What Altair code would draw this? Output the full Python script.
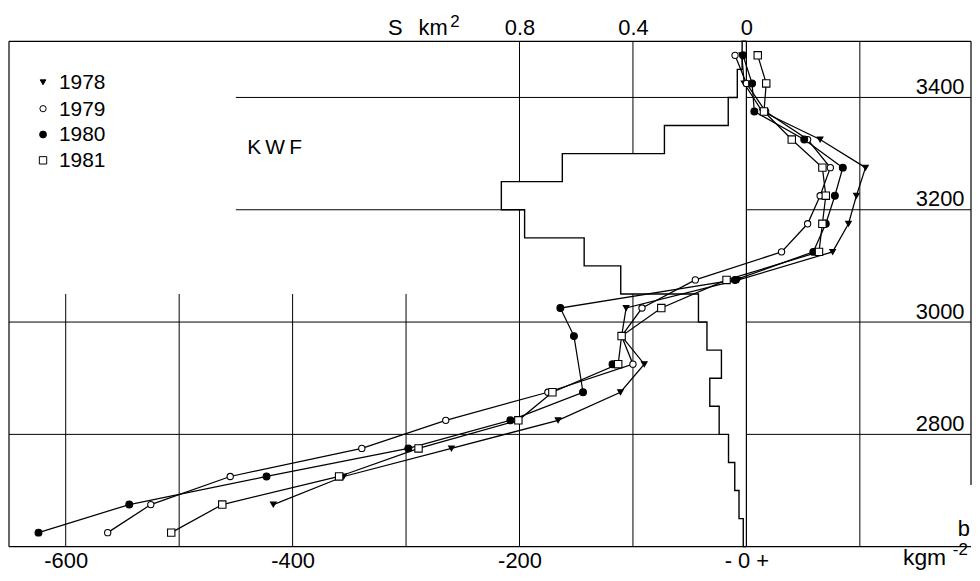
import altair as alt
import pandas as pd

# ---------------- data ----------------
years = ["1978", "1979", "1980", "1981"]
elev = [3475, 3425, 3375, 3325, 3275, 3225, 3175, 3125, 3075, 3025,
        2975, 2925, 2875, 2825, 2775, 2725, 2675, 2625]
b1978 = [-4, -2, 14, 65, 105, 97, 90, 76, -7, -106,
         -110, -90, -111, -166, -260, -355, -417, None]
b1979 = [-10, 0, 17, 54, 74, 65, 54, 31, -45, -92,
         -110, -100, -175, -265, -339, -455, -525, -563]
b1980 = [-3, 5, 7, 51, 85, 78, 70, 59, -10, -164,
         -152, -118, -144, -208, -298, -423, -544, -624]
b1981 = [10, 17.5, 15.5, 40, 67, 70, 67, 64, -17.5, -75,
         -110, -113, -171, -201, -289, -359, -462, -507]
# points drawn in the figure but not joined by the profile line
unlinked = {("1980", 2925)}

# area-altitude distribution (50 m bands), km2
band_bottom = [2600, 2650, 2700, 2750, 2800, 2850, 2900, 2950, 3000,
               3050, 3100, 3150, 3200, 3250, 3300, 3350, 3400, 3450]
area_km2 = [0.011, 0.026, 0.041, 0.063, 0.096, 0.129, 0.088, 0.139, 0.169,
            0.443, 0.572, 0.782, 0.864, 0.649, 0.289, 0.064, 0.032, 0.015]

x_ticks = [-600, -400, -200, 0]
s_ticks = [0.8, 0.4, 0.0]
elev_ticks = [3400, 3200, 3000, 2800]
grid_full_x = [-200, -100, 0, 100]
grid_low_x = [-600, -500, -400, -300]
grid_h_right = [3400, 3200]
grid_h_full = [3000, 2800]

KG_PER_KM2 = 250          # 0.4 km2 on the top axis sits at -100 kg m-2
XMIN, XMAX = -650, 198
ZMIN, ZMAX = 2600, 3500
FONT = "Liberation Sans"

# ---------------- tables ----------------
rows = []
for yr, vals in zip(years, [b1978, b1979, b1980, b1981]):
    for z, v in zip(elev, vals):
        if v is not None:
            rows.append({"year": yr, "z": z, "b": v,
                         "linked": (yr, z) not in unlinked})
prof = pd.DataFrame(rows)
prof_lines = prof[prof["linked"]]

outline = [{"i": 0, "b": 0, "z": ZMIN}]
for k, (lo, s) in enumerate(zip(band_bottom, area_km2)):
    outline.append({"i": 2 * k + 1, "b": -KG_PER_KM2 * s, "z": lo})
    outline.append({"i": 2 * k + 2, "b": -KG_PER_KM2 * s, "z": lo + 50})
outline.append({"i": 2 * len(band_bottom) + 1, "b": 0, "z": ZMAX})
hist = pd.DataFrame(outline)

grid_rows = []
for v in grid_full_x:
    grid_rows.append({"b": v, "b2": v, "z": ZMIN, "z2": ZMAX})
for v in grid_low_x:
    grid_rows.append({"b": v, "b2": v, "z": ZMIN, "z2": 3050})
for h in grid_h_right:
    grid_rows.append({"b": -450, "b2": XMAX, "z": h, "z2": h})
for h in grid_h_full:
    grid_rows.append({"b": XMIN, "b2": XMAX, "z": h, "z2": h})
grid = pd.DataFrame(grid_rows)

frame = pd.DataFrame([
    {"b": XMIN, "b2": XMAX, "z": ZMAX, "z2": ZMAX},
    {"b": XMIN, "b2": XMAX, "z": ZMIN, "z2": ZMIN},
    {"b": XMIN, "b2": XMIN, "z": ZMIN, "z2": ZMAX},
    {"b": XMAX, "b2": XMAX, "z": 2710, "z2": ZMAX},
    {"b": 0, "b2": 0, "z": ZMIN, "z2": ZMAX},
])

legend_rows = pd.DataFrame({
    "year": years,
    "z": [3427, 3380, 3334, 3288],
    "b": [-620] * 4,
    "bt": [-606] * 4,
})

xs = alt.Scale(domain=[XMIN, XMAX], nice=False, zero=False)
ys = alt.Scale(domain=[ZMIN, ZMAX], nice=False, zero=False)
shape_scale = alt.Scale(domain=years,
                        range=["triangle-down", "circle", "circle", "square"])
fill_scale = alt.Scale(domain=years, range=["black", "white", "black", "white"])
size_scale = alt.Scale(domain=years, range=[32, 55, 55, 44])

bottom_axis = alt.Axis(
    orient="bottom", values=x_ticks, title=None, ticks=False, tickSize=0,
    domain=False, grid=False, labelFont=FONT, labelFontSize=22,
    labelColor="black", labelBaseline="alphabetic", labelPadding=21,
    labelExpr="datum.value == 0 ? '- 0 +' : '-' + abs(datum.value)",
)
top_axis = alt.Axis(
    orient="top", values=[-KG_PER_KM2 * s for s in s_ticks], title=None,
    ticks=False, tickSize=0, domain=False, grid=False, labelFont=FONT,
    labelFontSize=22, labelColor="black", labelBaseline="alphabetic",
    labelPadding=7,
    labelExpr="datum.value == 0 ? '0' : format(-datum.value / 250, '.1f')",
)
right_axis = alt.Axis(
    orient="right", values=elev_ticks, title=None, ticks=False, tickSize=0,
    domain=False, grid=False, labelFont=FONT, labelFontSize=22, format="d",
    labelColor="black", labelAlign="right", labelBaseline="alphabetic",
    labelPadding=-7, labelOffset=-4,
)

grid_layer = alt.Chart(grid).mark_rule(color="black", strokeWidth=1).encode(
    x=alt.X("b:Q", scale=xs, axis=bottom_axis),
    x2="b2:Q",
    y=alt.Y("z:Q", scale=ys, axis=right_axis),
    y2="z2:Q",
)

hist_layer = alt.Chart(hist).mark_line(
    stroke="black", fill="white", strokeWidth=1.4, interpolate="linear"
).encode(
    x=alt.X("b:Q", scale=xs, axis=top_axis),
    y=alt.Y("z:Q", scale=ys, axis=None),
    order="i:Q",
)

frame_layer = alt.Chart(frame).mark_rule(color="black", strokeWidth=1.2).encode(
    x=alt.X("b:Q", scale=xs, axis=None), x2="b2:Q",
    y=alt.Y("z:Q", scale=ys, axis=None), y2="z2:Q",
)

line_layer = alt.Chart(prof_lines).mark_line(color="black", strokeWidth=1.25).encode(
    x=alt.X("b:Q", scale=xs, axis=None),
    y=alt.Y("z:Q", scale=ys, axis=None),
    detail="year:N",
    order="z:Q",
)

point_layer = alt.Chart(prof).mark_point(
    stroke="black", strokeWidth=1.1, opacity=1, fillOpacity=1
).encode(
    x=alt.X("b:Q", scale=xs, axis=None),
    y=alt.Y("z:Q", scale=ys, axis=None),
    shape=alt.Shape("year:N", scale=shape_scale, legend=None),
    fill=alt.Fill("year:N", scale=fill_scale, legend=None),
    size=alt.Size("year:N", scale=size_scale, legend=None),
)

legend_symbols = alt.Chart(legend_rows).mark_point(
    stroke="black", strokeWidth=1, opacity=1, fillOpacity=1
).encode(
    x=alt.X("b:Q", scale=xs, axis=None),
    y=alt.Y("z:Q", scale=ys, axis=None),
    shape=alt.Shape("year:N", scale=shape_scale, legend=None),
    fill=alt.Fill("year:N", scale=fill_scale, legend=None),
    size=alt.Size("year:N", scale=size_scale, legend=None),
)
legend_text = alt.Chart(legend_rows).mark_text(
    font=FONT, fontSize=21, color="black", align="left", baseline="middle", dy=1
).encode(
    x=alt.X("bt:Q", scale=xs, axis=None),
    y=alt.Y("z:Q", scale=ys, axis=None),
    text="year:N",
)


def label(text, bx, z, size=22, align="left"):
    return alt.Chart(pd.DataFrame({"t": [text]})).mark_text(
        font=FONT, fontSize=size, color="black", align=align,
        baseline="alphabetic",
    ).encode(
        x=alt.X("bx:Q", scale=xs, axis=None),
        y=alt.Y("bz:Q", scale=ys, axis=None),
        text="t:N",
    ).transform_calculate(bx=str(bx), bz=str(z))


texts = [
    label("K\u2009W\u2009F", -440, 3300, 21),
    label("S", -316, 3512, 22),
    label("km", -289, 3512, 22),
    label("2", -261, 3525, 17),
    label("b", 197, 2619, 22, "right"),
    label("kgm", 138, 2567, 23),
    label("-2", 182, 2585, 17),
]

chart = alt.layer(
    grid_layer, hist_layer, frame_layer, line_layer, point_layer,
    legend_symbols, legend_text, *texts
).resolve_axis(x="independent", y="independent").properties(
    width=967, height=508, autosize="none",
    padding={"left": 1, "top": 32, "right": 1, "bottom": 25},
).configure_view(stroke=None)

chart.save("out.html", embed_options={"renderer": "svg", "actions": False})
